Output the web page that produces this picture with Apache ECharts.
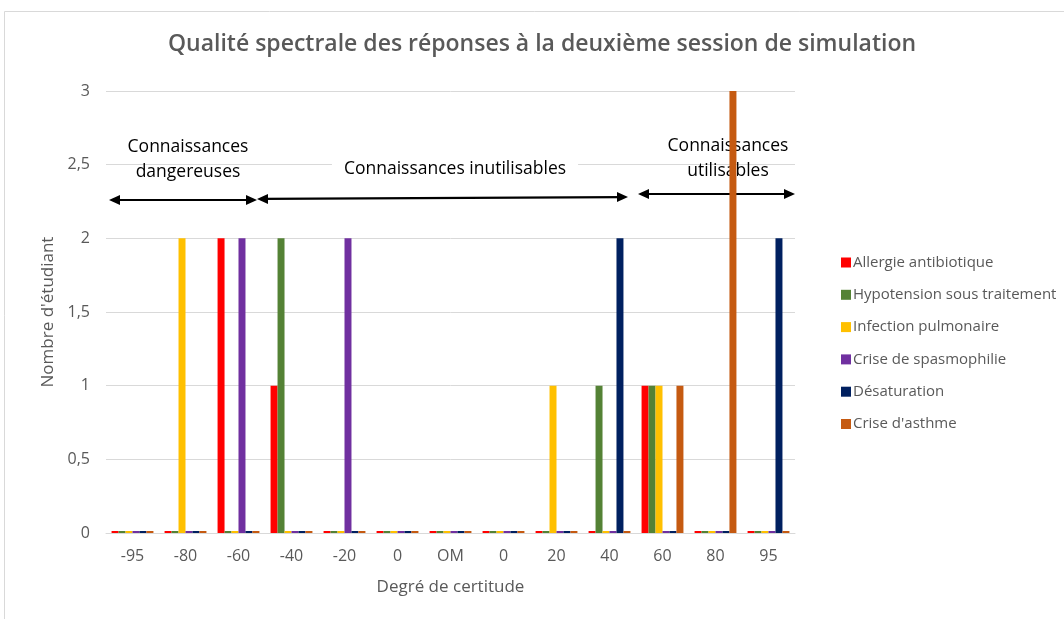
<!DOCTYPE html>
<html>
<head>
<meta charset="utf-8">
<script src="https://cdn.jsdelivr.net/npm/echarts@6/dist/echarts.min.js"></script>
<style>
  html, body { margin: 0; padding: 0; background: #fff; }
  #chart { width: 1064px; height: 619px; }
</style>
</head>
<body>
<div id="chart"></div>
<script>
// Degree-of-certainty categories on the x axis
const categories = ['-95', '-80', '-60', '-40', '-20', '0', 'OM', '0', '20', '40', '60', '80', '95'];

// Number of students per scenario and certainty degree
const allergieAntibiotique   = [0, 0, 2, 1, 0, 0, 0, 0, 0, 0, 1, 0, 0];
const hypotensionTraitement  = [0, 0, 0, 2, 0, 0, 0, 0, 0, 1, 1, 0, 0];
const infectionPulmonaire    = [0, 2, 0, 0, 0, 0, 0, 0, 1, 0, 1, 0, 0];
const criseSpasmophilie      = [0, 0, 2, 0, 2, 0, 0, 0, 0, 0, 0, 0, 0];
const desaturation           = [0, 0, 0, 0, 0, 0, 0, 0, 0, 2, 0, 0, 2];
const criseAsthme            = [0, 0, 0, 0, 0, 0, 0, 0, 0, 0, 1, 3, 0];

const seriesNames = [
  'Allergie antibiotique',
  'Hypotension sous traitement',
  'Infection pulmonaire',
  'Crise de spasmophilie',
  'Désaturation',
  "Crise d'asthme"
];
const seriesData = [allergieAntibiotique, hypotensionTraitement, infectionPulmonaire,
                    criseSpasmophilie, desaturation, criseAsthme];
const seriesColors = ['#FF0000', '#548235', '#FFC000', '#7030A0', '#002060', '#C55A11'];

const FONT = 'Open Sans';
const TXT = '#595959';

const chart = echarts.init(document.getElementById('chart'), null, { renderer: 'canvas' });

// double-headed arrow built from a line and two triangular heads
function arrow(x1, y1, x2, y2) {
  const dx = x2 - x1, dy = y2 - y1;
  const len = Math.sqrt(dx * dx + dy * dy);
  const ux = dx / len, uy = dy / len;
  const px = -uy, py = ux;
  const hl = 11, hw = 5;
  const head = (tx, ty, dir) => ({
    type: 'polygon', z: 1,
    shape: { points: [
      [tx, ty],
      [tx - dir * ux * hl + px * hw, ty - dir * uy * hl + py * hw],
      [tx - dir * ux * hl - px * hw, ty - dir * uy * hl - py * hw]
    ] },
    style: { fill: '#000' }
  });
  return [
    { type: 'line', z: 1, shape: { x1: x1 + ux * 6, y1: y1 + uy * 6, x2: x2 - ux * 6, y2: y2 - uy * 6 },
      style: { stroke: '#000', lineWidth: 2.2 } },
    head(x2, y2, 1),
    head(x1, y1, -1)
  ];
}

function label(x, y, text, boxed) {
  const style = { text: text, font: '17.5px "' + FONT + '"', fill: '#000', align: 'center',
                  verticalAlign: 'middle', lineHeight: 25 };
  if (boxed) {
    style.backgroundColor = '#fff';
    style.padding = [0, 12, 0, 12];
  }
  return { type: 'text', x: x, y: y, z: 1, style: style };
}

const option = {
  backgroundColor: '#fff',
  animation: false,
  title: {
    text: 'Qualité spectrale des réponses à la deuxième session de simulation',
    left: 537, top: 28, textAlign: 'center',
    textStyle: { fontFamily: FONT, fontSize: 23, fontWeight: 600, color: TXT }
  },
  legend: {
    orient: 'vertical',
    left: 836, top: 250,
    itemWidth: 10, itemHeight: 10, itemGap: 17.3,
    icon: 'rect',
    textStyle: { fontFamily: FONT, fontSize: 15, color: TXT, padding: [0, 0, 0, -3] },
    data: seriesNames
  },
  grid: { left: 106, right: 269, top: 91, bottom: 86, containLabel: false },
  xAxis: {
    type: 'category',
    data: categories,
    name: 'Degré de certitude',
    nameLocation: 'middle', nameGap: 46,
    nameTextStyle: { fontFamily: FONT, fontSize: 17, color: TXT },
    axisLine: { show: true, lineStyle: { color: '#D9D9D9' } },
    axisTick: { show: false },
    axisLabel: { fontFamily: FONT, fontSize: 16, color: TXT, margin: 15 }
  },
  yAxis: {
    type: 'value',
    min: 0, max: 3, interval: 0.5,
    name: "Nombre d'étudiant",
    nameLocation: 'middle', nameGap: 47, nameRotate: 90,
    nameTextStyle: { fontFamily: FONT, fontSize: 17, color: TXT },
    axisLine: { show: false },
    axisTick: { show: false },
    axisLabel: {
      fontFamily: FONT, fontSize: 16, color: TXT, margin: 16,
      formatter: v => String(v).replace('.', ',')
    },
    splitLine: { lineStyle: { color: '#D9D9D9', width: 1 } }
  },
  series: seriesNames.map((name, i) => ({
    name: name,
    type: 'bar',
    z: 5,
    data: seriesData[i],
    barMinHeight: 2,
    barGap: '0%',
    barCategoryGap: '21%',
    itemStyle: { color: seriesColors[i] }
  })),
  graphic: [
    { type: 'rect', z: 0, shape: { x: 4.5, y: 11.5, width: 1070, height: 620 },
      style: { fill: null, stroke: '#D9D9D9', lineWidth: 1 }, silent: true },
    label(188, 160, 'Connaissances\ndangereuses', false),
    label(455, 169, 'Connaissances inutilisables', true),
    label(728, 159, 'Connaissances\nutilisables', false),
    ...arrow(109, 200, 257, 200),
    ...arrow(257, 199, 628, 197),
    ...arrow(638, 194, 795, 194)
  ]
};

chart.setOption(option);
</script>
</body>
</html>
